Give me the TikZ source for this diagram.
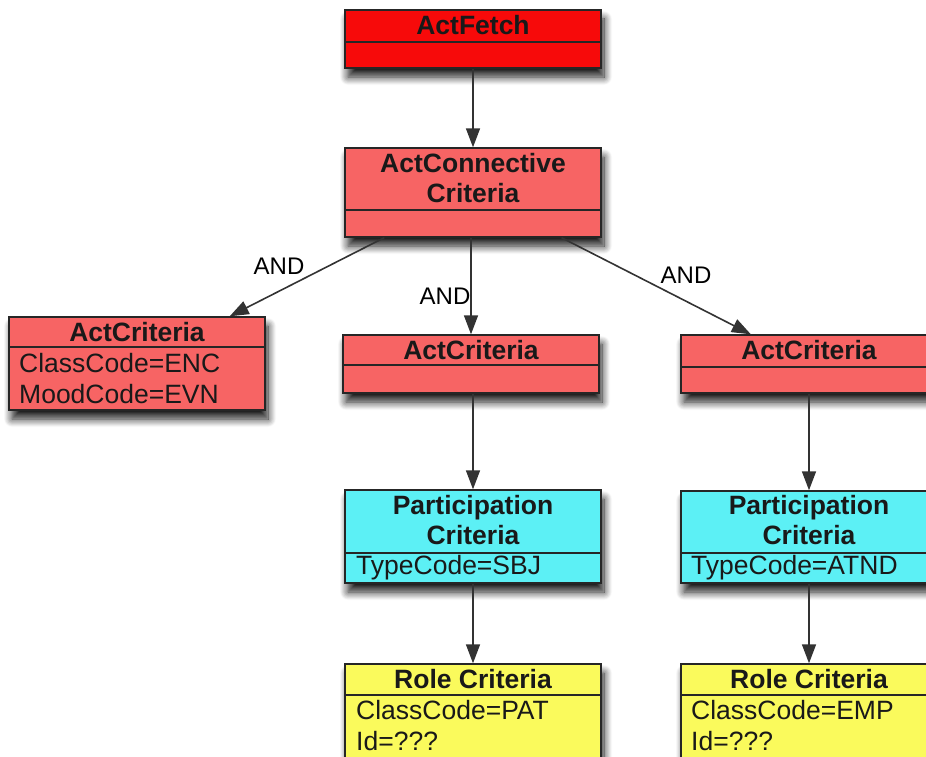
\documentclass[tikz,border=0pt]{standalone}
\usepackage{fontspec}
\setmainfont{Liberation Sans}
\usetikzlibrary{arrows.meta,shadows.blur}
\definecolor{cfetch}{HTML}{F70A0A}
\definecolor{cact}{HTML}{F76464}
\definecolor{cpart}{HTML}{5CF0F5}
\definecolor{crole}{HTML}{FAFA5C}
\tikzset{
  umlbox/.style={draw=black!85, line width=1.4pt, inner sep=0pt, minimum width=256pt,
    blur shadow={shadow xshift=3pt, shadow yshift=-9pt, shadow blur radius=8pt, shadow blur steps=12, shadow opacity=90}},
  ttl/.style={font=\fontsize{26.5}{29.5}\selectfont\bfseries, text=black!90, align=center, inner sep=0pt},
  bdy/.style={font=\fontsize{26.5}{31}\selectfont, text=black!90, anchor=west, inner sep=0pt},
  divline/.style={draw=black!85, line width=1.4pt},
  conn/.style={draw=black!80, line width=1.6pt, -{Triangle[length=19pt,width=14pt]}},
  andlbl/.style={font=\fontsize{24}{28}\selectfont, inner sep=0pt}
}
\begin{document}
\begin{tikzpicture}[x=1pt,y=-1pt]
\useasboundingbox (0,0) rectangle (926,757);
\clip (0,0) rectangle (926,757);
% boxes
\node[umlbox, fill=cfetch, minimum height=58pt] (fetch) at (473,39) {};
\node[umlbox, fill=cact, minimum height=89pt] (actconn) at (473,192.5) {};
\node[umlbox, fill=cact, minimum height=93pt] (actl) at (137,363.5) {};
\node[umlbox, fill=cact, minimum height=58pt] (actm) at (471,364) {};
\node[umlbox, fill=cact, minimum height=58pt] (actr) at (809,364) {};
\node[umlbox, fill=cpart, minimum height=93pt] (partm) at (473,536.5) {};
\node[umlbox, fill=cpart, minimum height=92pt] (partr) at (809,537) {};
\node[umlbox, fill=crole, minimum height=126pt] (rolem) at (473,727) {};
\node[umlbox, fill=crole, minimum height=126pt] (roler) at (809,727) {};
% dividers
\draw[divline] (fetch.west |- 0,42) -- (fetch.east |- 0,42);
\draw[divline] (actconn.west |- 0,210) -- (actconn.east |- 0,210);
\draw[divline] (actl.west |- 0,347) -- (actl.east |- 0,347);
\draw[divline] (actm.west |- 0,365) -- (actm.east |- 0,365);
\draw[divline] (actr.west |- 0,367) -- (actr.east |- 0,367);
\draw[divline] (partm.west |- 0,553) -- (partm.east |- 0,553);
\draw[divline] (partr.west |- 0,553) -- (partr.east |- 0,553);
\draw[divline] (rolem.west |- 0,695) -- (rolem.east |- 0,695);
\draw[divline] (roler.west |- 0,695) -- (roler.east |- 0,695);
% titles
\node[ttl] (tfetch) at (473,25) {ActFetch};
\node[ttl] (tconn) at (473,178) {ActConnective\\Criteria};
\node[ttl] (tactl) at (137,332) {ActCriteria};
\node[ttl] (tactm) at (471,350) {ActCriteria};
\node[ttl] (tactr) at (809,350) {ActCriteria};
\node[ttl] (tpartm) at (473,520) {Participation\\Criteria};
\node[ttl] (tpartr) at (809,520) {Participation\\Criteria};
\node[ttl] (trolem) at (473,679) {Role Criteria};
\node[ttl] (troler) at (809,679) {Role Criteria};
% bodies
\node[bdy] (b1) at (19,363) {ClassCode=ENC};
\node[bdy] (b2) at (19,394) {MoodCode=EVN};
\node[bdy] (b3) at (356,568) {TypeCode=SBJ};
\node[bdy] (b4) at (691,568) {TypeCode=ATND};
\node[bdy] (b5) at (356,710) {ClassCode=PAT};
\node[bdy] (b6) at (356,741) {Id=???};
\node[bdy] (b7) at (691,710) {ClassCode=EMP};
\node[bdy] (b8) at (691,741) {Id=???};
% connectors
\draw[conn] (fetch) -- (actconn);
\draw[conn] (actconn) -- (actl);
\draw[conn] (actm.north |- actconn.south) -- (actm.north);
\draw[conn] (actconn) -- (actr);
\draw[conn] (partm.north |- actm.south) -- (partm.north);
\draw[conn] (actr) -- (partr);
\draw[conn] (partm) -- (rolem.north);
\draw[conn] (partr) -- (roler.north);
% labels
\node[andlbl] (and1) at (279,266) {AND};
\node[andlbl] (and2) at (445,296) {AND};
\node[andlbl] (and3) at (686,275) {AND};
\end{tikzpicture}
\end{document}
